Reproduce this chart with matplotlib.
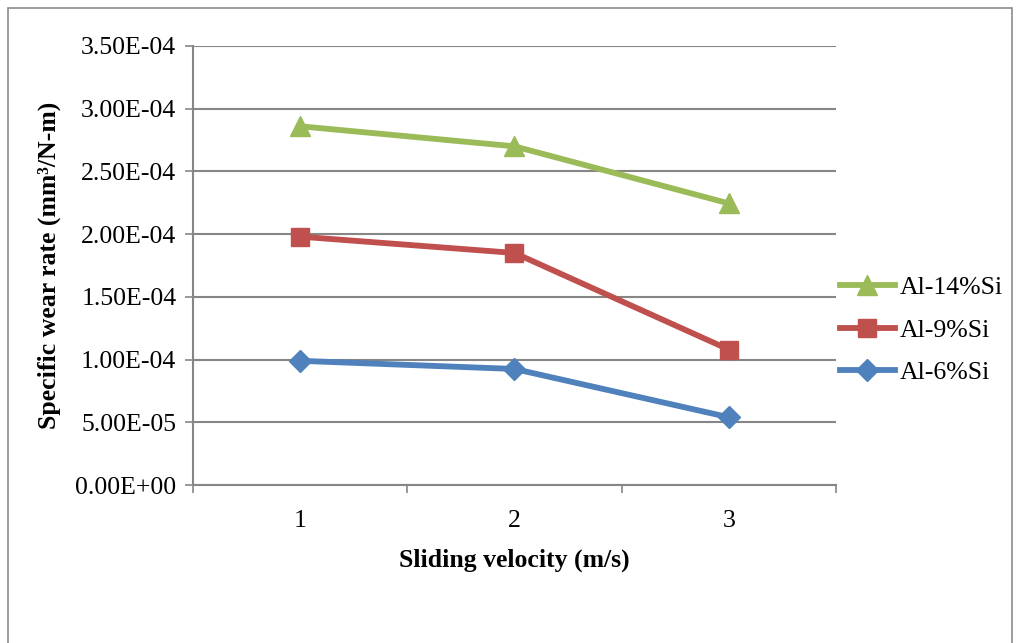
import matplotlib
matplotlib.use("Agg")
import matplotlib.pyplot as plt
from matplotlib.patches import Rectangle

velocity = [1, 2, 3]
al14 = [2.86e-4, 2.70e-4, 2.245e-4]
al9 = [1.98e-4, 1.85e-4, 1.08e-4]
al6 = [0.99e-4, 0.925e-4, 0.54e-4]
yticks = [0, 0.5e-4, 1.0e-4, 1.5e-4, 2.0e-4, 2.5e-4, 3.0e-4, 3.5e-4]
ytick_labels = ["0.00E+00", "5.00E-05", "1.00E-04", "1.50E-04", "2.00E-04",
                "2.50E-04", "3.00E-04", "3.50E-04"]

plt.rcParams['font.family'] = ['Liberation Serif', 'DejaVu Serif']

W, H = 1020, 643
fig = plt.figure(figsize=(W/100, H/100), dpi=100)
fig.patches.append(Rectangle((8/W, -0.01), (1012-8)/W, 1 - 8/H + 0.01,
                             transform=fig.transFigure, fill=False,
                             edgecolor='#8c8c8c', linewidth=1.2))

ax = fig.add_axes([193/W, 1 - 485/H, (836-193)/W, (485-46)/H])
grid_c = '#868686'
fs = 18.5
ax.set_xlim(0.5, 3.5)
ax.set_ylim(0, 3.5e-4)
ax.set_yticks(yticks)
ax.set_yticklabels(ytick_labels, fontsize=fs)
ax.set_xticks(velocity)
ax.set_xticklabels([str(v) for v in velocity], fontsize=fs)
ax.set_xticks([0.5, 1.5, 2.5, 3.5], minor=True)
ax.tick_params(axis='x', which='major', length=0, pad=18)
ax.tick_params(axis='x', which='minor', length=6, color=grid_c, width=1.2, direction='out')
ax.tick_params(axis='y', length=6, color=grid_c, width=1.2, direction='out', pad=6)
ax.yaxis.grid(True, color=grid_c, linewidth=1.5)
ax.set_axisbelow(True)
for s in ['top', 'right']:
    ax.spines[s].set_visible(False)
for s in ['left', 'bottom']:
    ax.spines[s].set_color(grid_c)
    ax.spines[s].set_linewidth(1.5)

ax.plot(velocity, al14, color='#9BBB59', lw=4.2, marker='^', ms=15, label='Al-14%Si')
ax.plot(velocity, al9, color='#C0504D', lw=4.2, marker='s', ms=13, label='Al-9%Si')
ax.plot(velocity, al6, color='#4F81BD', lw=4.2, marker='D', ms=11, label='Al-6%Si')

ax.set_xlabel('Sliding velocity (m/s)', fontsize=fs, fontweight='bold', labelpad=12)
ax.set_ylabel('Specific wear rate (mm³/N-m)', fontsize=fs, fontweight='bold', labelpad=10)

leg = ax.legend(loc='center left', bbox_to_anchor=(1.006, 0.353), frameon=False,
                fontsize=fs, handlelength=2.15, handletextpad=0.2, labelspacing=0.75,
                borderaxespad=0.0, borderpad=0.0)

fig.savefig('out.png', dpi=100)
